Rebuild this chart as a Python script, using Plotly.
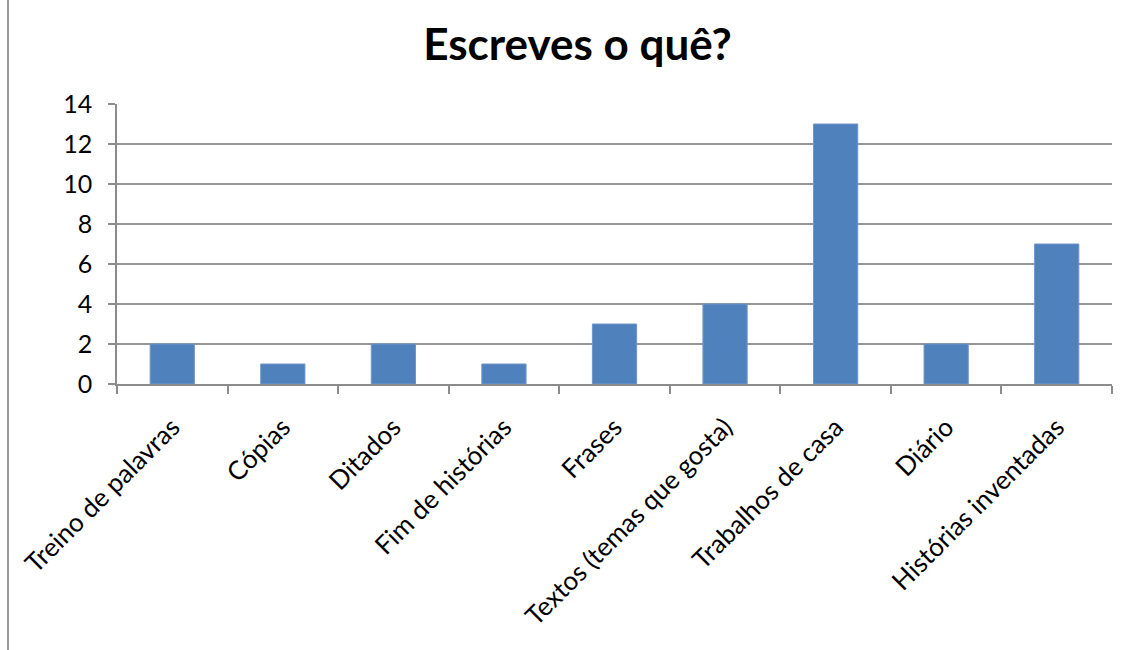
import plotly.graph_objects as go

# Tipos de escrita e número de respostas
categorias = [
    "Treino de palavras",
    "Cópias",
    "Ditados",
    "Fim de histórias",
    "Frases",
    "Textos (temas que gosta)",
    "Trabalhos de casa",
    "Diário",
    "Histórias inventadas",
]
respostas = [2, 1, 2, 1, 3, 4, 13, 2, 7]
marcas_y = [0, 2, 4, 6, 8, 10, 12, 14]

W, H = 1132, 650
ML, MR, MT, MB = 117, 20, 104, 266
FONTE = "Lato"

fig = go.Figure(
    go.Bar(
        x=categorias,
        y=respostas,
        marker=dict(color="#4F81BD", line=dict(color="#7096C8", width=1)),
        width=0.4,
    )
)

fig.update_layout(
    width=W,
    height=H,
    margin=dict(l=ML, r=MR, t=MT, b=MB),
    paper_bgcolor="white",
    plot_bgcolor="white",
    showlegend=False,
    font=dict(family=FONTE, color="black", size=25),
    title=dict(
        text="<b>Escreves o quê?</b>",
        x=(422 + 733) / 2 / W,
        xanchor="center",
        y=1 - 45 / H,
        yanchor="middle",
        font=dict(family=FONTE, size=44, color="black"),
    ),
)

fig.update_xaxes(
    type="category",
    showline=True,
    linecolor="#8C8C8C",
    linewidth=1.5,
    ticks="outside",
    tickson="boundaries",
    ticklen=8,
    tickcolor="#8C8C8C",
    tickwidth=1.5,
    tickangle=-45,
    ticklabelstandoff=16,
    tickfont=dict(family=FONTE, size=26),
    showgrid=False,
)

fig.update_yaxes(
    range=[0, 14],
    tickvals=marcas_y,
    showline=True,
    linecolor="#8C8C8C",
    linewidth=1.5,
    ticks="outside",
    ticklen=7,
    tickcolor="#8C8C8C",
    tickwidth=1.5,
    showgrid=True,
    gridcolor="#969696",
    gridwidth=1.5,
    zeroline=False,
    ticklabelstandoff=11,
    tickfont=dict(family=FONTE, size=25),
)

# Linha vertical cinzenta à esquerda da página
plot_w = W - ML - MR
plot_h = H - MT - MB
fig.add_shape(
    type="line",
    xref="paper",
    yref="paper",
    x0=(8 - ML) / plot_w,
    x1=(8 - ML) / plot_w,
    y0=-MB / plot_h,
    y1=MT / plot_h + 1,
    line=dict(color="#9A9A9A", width=2),
)

fig.write_html("out.html")
